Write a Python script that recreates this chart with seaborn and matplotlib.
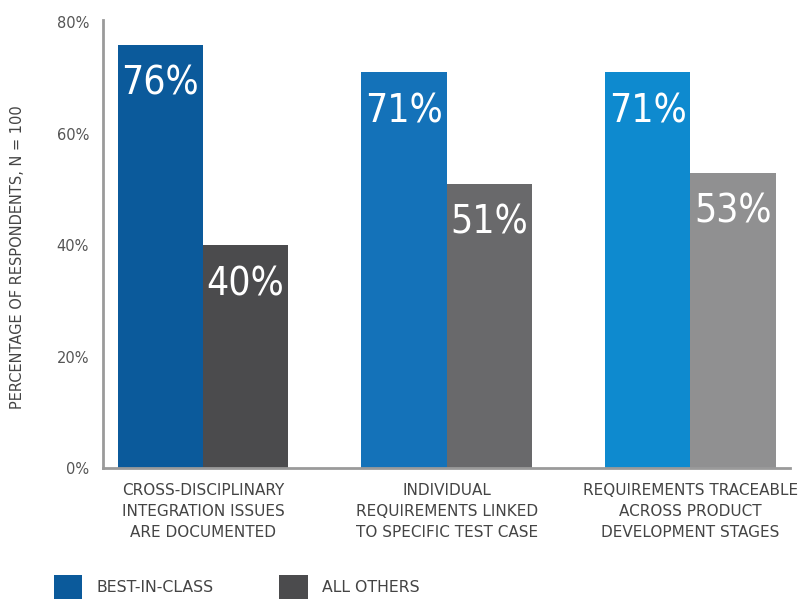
import matplotlib
matplotlib.use("Agg")
import matplotlib.pyplot as plt
import seaborn as sns
import pandas as pd
from matplotlib.patches import Patch

categories = ["CROSS-DISCIPLINARY\nINTEGRATION ISSUES\nARE DOCUMENTED",
              "INDIVIDUAL\nREQUIREMENTS LINKED\nTO SPECIFIC TEST CASE",
              "REQUIREMENTS TRACEABLE\nACROSS PRODUCT\nDEVELOPMENT STAGES"]
series = ["BEST-IN-CLASS", "ALL OTHERS"]
best_in_class = [76, 71, 71]
all_others = [40, 51, 53]
yticks = [0, 20, 40, 60, 80]

blue_shades = ["#0b5a9b", "#1472b9", "#0e8acf"]
gray_shades = ["#4b4b4d", "#69696b", "#909091"]

df = pd.DataFrame({
    "category": categories * 2,
    "group": [series[0]] * 3 + [series[1]] * 3,
    "value": best_in_class + all_others,
})

sns.set_theme(style="white")
plt.rcParams["font.family"] = ["DejaVu Sans"]

fig = plt.figure(figsize=(7.99, 6.02), dpi=100)
ax = fig.add_axes([0.129, 0.2226, 0.86, 0.745])

sns.barplot(data=df, x="category", y="value", hue="group", order=categories,
            hue_order=series, palette=[blue_shades[0], gray_shades[0]],
            width=0.7, ax=ax, legend=False, saturation=1)

for cont, shades in zip(ax.containers, [blue_shades, gray_shades]):
    for bar, c in zip(cont, shades):
        bar.set_facecolor(c)
        bar.set_edgecolor("none")
        h = bar.get_height()
        ax.text(bar.get_x() + bar.get_width() / 2, h - 7.0, f"{h:.0f}%",
                ha="center", va="center", color="white", fontsize=28,
                family=["DejaVu Sans"], fontstretch="condensed")

ax.set_xlim(-0.41, 2.41)
ax.set_ylim(0, 80.5)
ax.set_yticks(yticks)
ax.set_yticklabels([f"{t}%" for t in yticks], color="#555555", fontsize=10.5)
ax.tick_params(axis="y", length=0, pad=10)
ax.tick_params(axis="x", length=0, pad=11)
for lbl in ax.get_xticklabels():
    lbl.set_color("#444444")
    lbl.set_fontsize(11)
    lbl.set_linespacing(1.5)
ax.set_xlabel("")
ax.set_ylabel("PERCENTAGE OF RESPONDENTS, N = 100", color="#444444",
              fontsize=10.5)
ax.yaxis.set_label_coords(-0.113, 0.47)
for s in ["top", "right"]:
    ax.spines[s].set_visible(False)
for s in ["left", "bottom"]:
    ax.spines[s].set_color("#9a9a9a")
    ax.spines[s].set_linewidth(2)

handles = [Patch(facecolor=blue_shades[0], edgecolor="none"),
           Patch(facecolor=gray_shades[0], edgecolor="none")]
fig.legend(handles, series, loc="lower left", bbox_to_anchor=(0.05, -0.018),
           ncol=2, frameon=False, handlelength=1.8, handleheight=1.9,
           handletextpad=0.9, columnspacing=4.2, labelcolor="#444444",
           prop={"size": 11.3})

fig.savefig("out.png", dpi=100)
